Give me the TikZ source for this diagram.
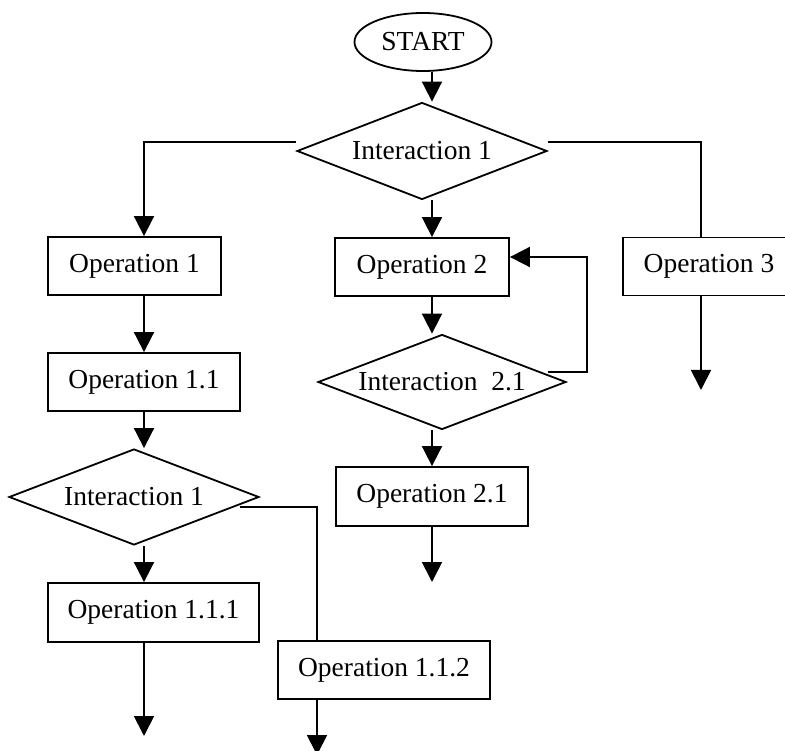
\documentclass[tikz,border=0pt]{standalone}
\usepackage{fontspec}
\setmainfont{Liberation Serif}
\usetikzlibrary{arrows.meta}
\usetikzlibrary{shapes.geometric}

\begin{document}
\begin{tikzpicture}[x=1pt, y=-1pt, line width=1.8pt, inner sep=0pt,
    font=\fontsize{27.5}{33}\selectfont,
    opbox/.style={draw, rectangle, minimum height=58pt},
    ask/.style={draw, diamond, aspect=2.6},
    arr/.style={-{Triangle[width=20pt, length=20pt]}}]
    \useasboundingbox (0,0) rectangle (785,751);
    % columns of the arrows
    \coordinate (cl) at (144,0);
    \coordinate (cm) at (432,0);
    \coordinate (cb) at (317,0);
    \coordinate (cr) at (701,0);
    % nodes
    \node[draw, ellipse, minimum width=137pt, minimum height=58pt] (start) at (423,42) {START};
    \node[ask, minimum width=250pt, minimum height=97pt] (i1) at (422,151) {Interaction 1};
    \node[opbox, minimum width=173pt] (op1) at (134.5,266) {Operation 1};
    \node[opbox, minimum width=174pt] (op2) at (422,267) {Operation 2};
    \node[opbox, minimum width=172pt] (op3) at (709,266.5) {Operation 3};
    \node[opbox, minimum width=192pt] (op11) at (144,382) {Operation 1.1};
    \node[ask, minimum width=248pt, minimum height=95pt] (i21) at (442,382) {Interaction\ \ 2.1};
    \node[ask, minimum width=250pt, minimum height=96pt] (i11) at (134,497) {Interaction 1};
    \node[opbox, minimum width=192pt, minimum height=59pt] (op21) at (432,496.5) {Operation 2.1};
    \node[opbox, minimum width=211pt, minimum height=59pt] (op111) at (153.5,612.5) {Operation 1.1.1};
    \node[opbox, minimum width=212pt] (op112) at (384,670) {Operation 1.1.2};
    % free ends
    \coordinate (e3) at (701,390);
    \coordinate (e21) at (432,582);
    \coordinate (e111) at (144,736);
    \coordinate (e112) at (317,755);
    % connectors
    \draw[arr] (start.south -| cm) -- (i1.north -| cm);
    \draw[arr] ([yshift=9pt]i1.west) -| (op1.north -| cl);
    \draw ([yshift=9pt]i1.east) -| (op3.north -| cr);
    \draw[arr] (i1.south -| cm) -- (op2.north -| cm);
    \draw[arr] (op1.south -| cl) -- (op11.north -| cl);
    \draw[arr] (op11.south -| cl) -- (i11.north -| cl);
    \draw[arr] (i11.south -| cl) -- (op111.north -| cl);
    \draw[arr] (op111.south -| cl) -- (e111);
    \draw ([xshift=-20pt, yshift=-10pt]i11.east) -| (op112.north -| cb);
    \draw[arr] (op112.south -| cb) -- (e112);
    \draw[arr] (op2.south -| cm) -- (i21.north -| cm);
    \draw[arr] ([xshift=-19pt, yshift=10pt]i21.east) -- ++(39,0)
    |- ([yshift=10pt]op2.east);
    \draw[arr] (i21.south -| cm) -- (op21.north -| cm);
    \draw[arr] (op21.south -| cm) -- (e21);
    \draw[arr] (op3.south -| cr) -- (e3);
  \end{tikzpicture}
\end{document}
